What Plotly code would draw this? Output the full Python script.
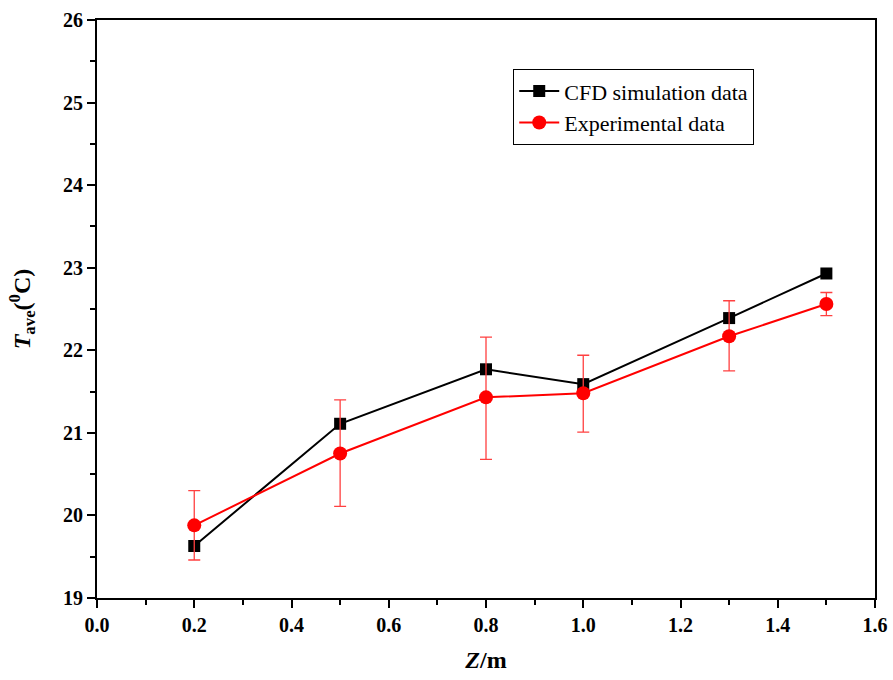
import plotly.graph_objects as go

z = [0.2, 0.5, 0.8, 1.0, 1.3, 1.5]
cfd = [19.63, 21.11, 21.77, 21.59, 22.39, 22.93]
exp_vals = [19.88, 20.75, 21.43, 21.48, 22.17, 22.56]
exp_hi = [20.30, 21.40, 22.16, 21.94, 22.60, 22.70]
exp_lo = [19.46, 20.11, 20.68, 21.01, 21.75, 22.42]

err_plus = [h - v for h, v in zip(exp_hi, exp_vals)]
err_minus = [v - l for v, l in zip(exp_vals, exp_lo)]

font = "Liberation Serif, Times New Roman, serif"

fig = go.Figure()
fig.add_trace(go.Scatter(
    x=z, y=cfd, mode="lines+markers", name="CFD simulation data",
    line=dict(color="black", width=2),
    marker=dict(symbol="square", size=12, color="black"),
))
fig.add_trace(go.Scatter(
    x=z, y=exp_vals, mode="lines+markers", name="Experimental data",
    line=dict(color="#ff0000", width=2),
    marker=dict(symbol="circle", size=14, color="#ff0000"),
    error_y=dict(type="data", symmetric=False, array=err_plus, arrayminus=err_minus,
                 color="#ff4040", thickness=1.3, width=6),
))

axis_common = dict(
    showgrid=False, zeroline=False, showline=True, linecolor="black", linewidth=2,
    mirror=True, ticks="outside", ticklen=8, tickwidth=2, tickcolor="black",
    automargin=False,
    tickfont=dict(family=font, size=20, color="black", weight="bold"),
)

fig.update_xaxes(
    range=[0, 1.6], dtick=0.2, tick0=0, tickformat=".1f",
    minor=dict(ticks="outside", dtick=0.1, ticklen=5, tickwidth=2, tickcolor="black"),
    title=dict(text="<b><i>Z</i>/m</b>", font=dict(family=font, size=24, color="black"), standoff=16),
    **axis_common,
)
fig.update_yaxes(
    range=[19, 26], dtick=1, tick0=19,
    minor=dict(ticks="outside", dtick=0.5, ticklen=5, tickwidth=2, tickcolor="black"),
    title=dict(text="<b><i>T</i><sub>ave</sub>(<sup>0</sup>C)</b>",
               font=dict(family=font, size=24, color="black"), standoff=26),
    **axis_common,
)

fig.update_layout(
    width=893, height=680,
    margin=dict(l=97, r=18, t=20, b=82),
    plot_bgcolor="white", paper_bgcolor="white",
    showlegend=True,
    legend=dict(
        x=0.535, y=0.915, xanchor="left", yanchor="top",
        bordercolor="black", borderwidth=1, bgcolor="white",
        font=dict(family=font, size=22, color="black"),
        itemwidth=40, tracegroupgap=0,
    ),
)

fig.write_html("out.html")
